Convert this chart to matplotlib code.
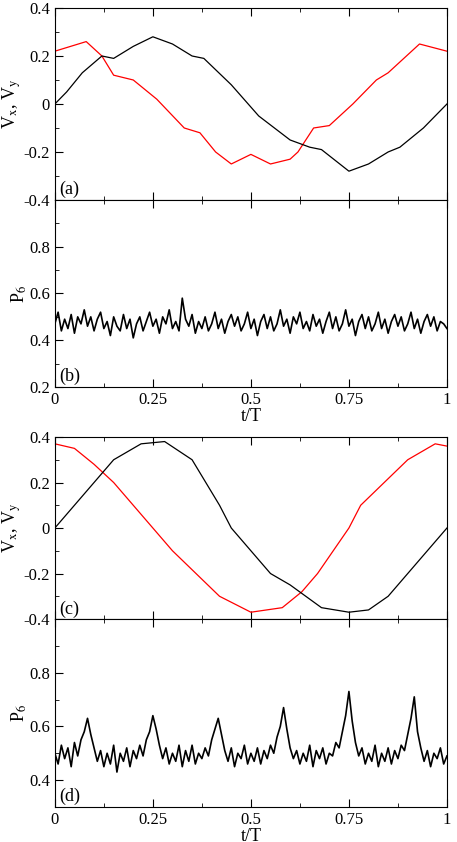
import numpy as np
import matplotlib
matplotlib.use("Agg")
import matplotlib.pyplot as plt
from matplotlib.ticker import MultipleLocator, FuncFormatter

plt.rcParams['font.family'] = ['Liberation Serif', 'DejaVu Serif']
plt.rcParams['mathtext.fontset'] = 'stix'
plt.rcParams['font.size'] = 12

# panel (a): velocity components, key points
a_t_x = [0, 0.03, 0.07, 0.12, 0.15, 0.2, 0.25, 0.3, 0.35, 0.38, 0.45, 0.52, 0.6, 0.65, 0.68, 0.75, 0.8, 0.85, 0.88, 0.94, 1.0]
a_vx = [0, 0.05, 0.13, 0.2, 0.19, 0.24, 0.28, 0.25, 0.2, 0.19, 0.08, -0.05, -0.15, -0.18, -0.19, -0.28, -0.25, -0.2, -0.18, -0.1, 0]
a_t_y = [0, 0.04, 0.08, 0.12, 0.15, 0.2, 0.26, 0.33, 0.37, 0.41, 0.45, 0.5, 0.55, 0.6, 0.62, 0.66, 0.7, 0.76, 0.82, 0.85, 0.93, 1.0]
a_vy = [0.22, 0.24, 0.26, 0.2, 0.12, 0.1, 0.02, -0.1, -0.12, -0.2, -0.25, -0.21, -0.25, -0.23, -0.2, -0.1, -0.09, 0.0, 0.1, 0.13, 0.25, 0.22]

# panel (c)
c_t_x = [0, 0.05, 0.1, 0.15, 0.22, 0.28, 0.35, 0.42, 0.45, 0.55, 0.6, 0.68, 0.75, 0.8, 0.85, 0.9, 0.95, 1.0]
c_vx = [0, 0.1, 0.2, 0.3, 0.37, 0.38, 0.3, 0.1, 0.0, -0.2, -0.25, -0.35, -0.37, -0.36, -0.3, -0.2, -0.1, 0]
c_t_y = [0, 0.05, 0.1, 0.15, 0.25, 0.3, 0.36, 0.42, 0.5, 0.58, 0.63, 0.67, 0.75, 0.78, 0.84, 0.9, 0.97, 1.0]
c_vy = [0.37, 0.35, 0.28, 0.2, 0.0, -0.1, -0.2, -0.3, -0.37, -0.35, -0.28, -0.2, 0.0, 0.1, 0.2, 0.3, 0.37, 0.36]

# P6 traces, sampled every 1/120 of the period
b_p6 = [0.47,0.52,0.44,0.49,0.45,0.51,0.43,0.50,0.47,0.53,0.46,0.50,0.44,0.49,0.52,0.45,0.48,0.42,0.50,0.46,
        0.44,0.51,0.45,0.49,0.41,0.47,0.50,0.44,0.48,0.52,0.46,0.49,0.43,0.50,0.47,0.53,0.45,0.48,0.44,0.58,
        0.49,0.46,0.51,0.43,0.48,0.45,0.50,0.44,0.47,0.52,0.45,0.49,0.43,0.48,0.51,0.46,0.50,0.44,0.47,0.52,
        0.45,0.49,0.42,0.48,0.51,0.45,0.50,0.44,0.47,0.53,0.46,0.49,0.43,0.50,0.47,0.52,0.45,0.48,0.44,0.51,
        0.46,0.49,0.43,0.48,0.52,0.45,0.50,0.44,0.47,0.53,0.46,0.49,0.42,0.48,0.51,0.45,0.50,0.44,0.47,0.52,
        0.45,0.49,0.43,0.48,0.51,0.46,0.50,0.44,0.47,0.52,0.45,0.49,0.43,0.48,0.51,0.46,0.50,0.44,0.48,0.47,0.45]
d_p6 = [0.50,0.46,0.53,0.48,0.52,0.45,0.54,0.49,0.55,0.58,0.63,0.57,0.52,0.47,0.51,0.45,0.50,0.46,0.53,0.43,
        0.50,0.47,0.52,0.45,0.51,0.48,0.53,0.49,0.55,0.58,0.64,0.59,0.53,0.48,0.52,0.46,0.50,0.47,0.53,0.45,
        0.51,0.47,0.53,0.46,0.50,0.48,0.52,0.49,0.55,0.59,0.63,0.57,0.51,0.47,0.52,0.45,0.50,0.48,0.53,0.46,
        0.50,0.47,0.52,0.46,0.51,0.48,0.53,0.50,0.56,0.60,0.67,0.59,0.52,0.48,0.51,0.46,0.50,0.47,0.53,0.45,
        0.51,0.48,0.52,0.46,0.50,0.49,0.54,0.52,0.58,0.64,0.73,0.62,0.54,0.49,0.52,0.46,0.50,0.47,0.53,0.45,
        0.50,0.47,0.52,0.46,0.51,0.48,0.53,0.51,0.57,0.63,0.71,0.58,0.52,0.47,0.51,0.45,0.50,0.48,0.52,0.46,0.49]
p6_t = np.linspace(0, 1, len(b_p6))

x_ticks = [0, 0.25, 0.5, 0.75, 1]
x_labels = ["0", "0.25", "0.5", "0.75", "1"]

fig = plt.figure(figsize=(4.57, 8.42), dpi=100)
L, W = 0.12, 0.858
ax_a = fig.add_axes([L, 0.7625, W, 0.228])
ax_b = fig.add_axes([L, 0.5404, W, 0.2221])
ax_c = fig.add_axes([L, 0.2648, W, 0.2162])
ax_d = fig.add_axes([L, 0.0416, W, 0.2233])

def num(v, _):
    s = f"{v:g}"
    return "0" if s in ("0", "-0") else s

for ax in (ax_a, ax_b, ax_c, ax_d):
    ax.set_xlim(0, 1)
    ax.set_xticks(x_ticks)
    ax.xaxis.set_minor_locator(MultipleLocator(0.125))
    ax.tick_params(which='both', direction='in', top=True, right=False)
    ax.tick_params(which='major', length=6)
    ax.tick_params(which='minor', length=3)
    ax.yaxis.set_major_formatter(FuncFormatter(num))

for ax, tx, vx, ty, vy, lab in ((ax_a, a_t_x, a_vx, a_t_y, a_vy, "(a)"), (ax_c, c_t_x, c_vx, c_t_y, c_vy, "(c)")):
    ax.plot(ty, vy, color='red', lw=0.9)
    ax.plot(tx, vx, color='black', lw=0.9)
    ax.set_ylim(-0.4, 0.4)
    ax.set_yticks([-0.4, -0.2, 0, 0.2, 0.4])
    ax.yaxis.set_minor_locator(MultipleLocator(0.1))
    ax.set_xticklabels([])
    ax.set_ylabel(r"V$_\mathrm{x}$, V$_\mathrm{y}$", labelpad=0, fontsize=13)
    ax.text(0.01, 0.03, lab, transform=ax.transAxes, fontsize=13)

for ax, p, lo, lab in ((ax_b, b_p6, 0.2, "(b)"), (ax_d, d_p6, 0.3, "(d)")):
    ax.plot(p6_t, p, color='black', lw=1.2)
    ax.set_ylim(lo, 1.0)
    ax.set_yticks([t for t in [0.2, 0.4, 0.6, 0.8] if t >= lo])
    ax.yaxis.set_minor_locator(MultipleLocator(0.1))
    ax.set_xticklabels(x_labels)
    ax.set_xlabel("t/T", labelpad=0, fontsize=13)
    ax.set_ylabel(r"P$_\mathrm{6}$", labelpad=0, fontsize=13)
    ax.text(0.01, 0.03, lab, transform=ax.transAxes, fontsize=13)

fig.savefig("out.png", dpi=100)
